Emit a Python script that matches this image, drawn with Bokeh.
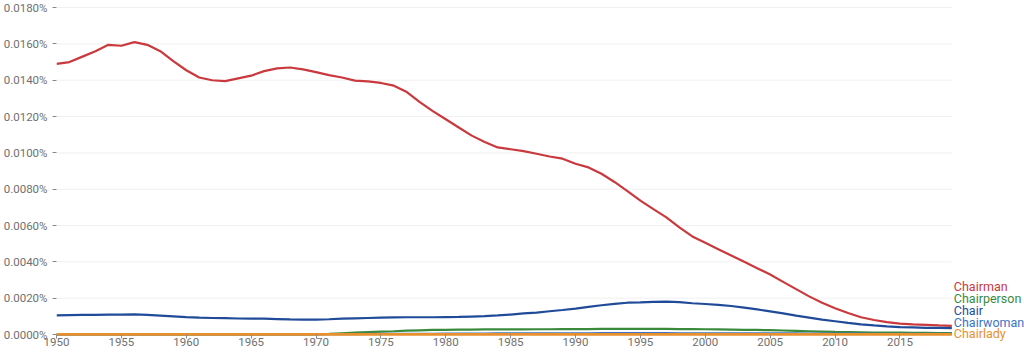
from bokeh.plotting import figure
from bokeh.models import Range1d, PrintfTickFormatter, FixedTicker, ColumnDataSource
from bokeh.core.properties import value
from bokeh.embed import file_html
from bokeh.resources import INLINE

years = list(range(1950, 2020))

chairman = [
    0.01490, 0.01500, 0.01530, 0.01560, 0.01595, 0.01590, 0.01610, 0.01595, 0.01560, 0.01505,
    0.01455, 0.01415, 0.01400, 0.01395, 0.01410, 0.01425, 0.01450, 0.01465, 0.01470, 0.01460,
    0.01445, 0.01428, 0.01415, 0.01398, 0.01394, 0.01385, 0.01370, 0.01335, 0.01280, 0.01230,
    0.01185, 0.01140, 0.01095, 0.01060, 0.01030, 0.01020, 0.01010, 0.00995, 0.00980, 0.00968,
    0.00940, 0.00920, 0.00885, 0.00840, 0.00790, 0.00737, 0.00690, 0.00645, 0.00590, 0.00540,
    0.00505, 0.00470, 0.00435, 0.00400, 0.00365, 0.00330, 0.00290, 0.00250, 0.00210, 0.00175,
    0.00145, 0.00118, 0.00095, 0.00080, 0.00068, 0.00060, 0.00056, 0.00053, 0.00050, 0.00048,
]

chair = [
    0.00105, 0.00107, 0.00108, 0.00108, 0.00110, 0.00110, 0.00111, 0.00108, 0.00104, 0.00100,
    0.00096, 0.00093, 0.00091, 0.00090, 0.00088, 0.00087, 0.00087, 0.00085, 0.00083, 0.00082,
    0.00082, 0.00084, 0.00087, 0.00089, 0.00091, 0.00093, 0.00094, 0.00095, 0.00095, 0.00095,
    0.00096, 0.00097, 0.00099, 0.00101, 0.00105, 0.00110, 0.00116, 0.00121, 0.00128, 0.00135,
    0.00143, 0.00152, 0.00161, 0.00169, 0.00175, 0.00177, 0.00180, 0.00181, 0.00178, 0.00172,
    0.00168, 0.00163, 0.00157, 0.00148, 0.00138, 0.00127, 0.00116, 0.00104, 0.00093, 0.00082,
    0.00073, 0.00064, 0.00056, 0.00050, 0.00045, 0.00041, 0.00039, 0.00037, 0.00036, 0.00035,
]

chairperson = [
    0.0, 0.0, 0.0, 0.0, 0.0, 0.0, 0.0, 0.0, 0.0, 0.0,
    0.0, 0.0, 0.0, 0.0, 0.0, 0.0, 0.0, 0.0, 0.0, 0.00001,
    0.00002, 0.00004, 0.00007, 0.00010, 0.00013, 0.00016, 0.00018, 0.00021, 0.00023, 0.00025,
    0.00026, 0.00027, 0.00027, 0.00028, 0.00028, 0.00028, 0.00028, 0.00029, 0.00029, 0.00030,
    0.00030, 0.00030, 0.00031, 0.00031, 0.00031, 0.00031, 0.00031, 0.00031, 0.00030, 0.00030,
    0.00029, 0.00028, 0.00027, 0.00026, 0.00025, 0.00024, 0.00022, 0.00020, 0.00018, 0.00016,
    0.00014, 0.00013, 0.00012, 0.00011, 0.00010, 0.00010, 0.00009, 0.00009, 0.00008, 0.00008,
]

chairwoman = [
    0.00001, 0.00001, 0.00001, 0.00001, 0.00001, 0.00001, 0.00001, 0.00001, 0.00001, 0.00001,
    0.00001, 0.00001, 0.00001, 0.00001, 0.00001, 0.00001, 0.00001, 0.00001, 0.00001, 0.00001,
    0.00001, 0.00002, 0.00002, 0.00002, 0.00003, 0.00003, 0.00003, 0.00004, 0.00004, 0.00004,
    0.00005, 0.00005, 0.00005, 0.00005, 0.00006, 0.00006, 0.00006, 0.00006, 0.00007, 0.00007,
    0.00007, 0.00007, 0.00008, 0.00008, 0.00008, 0.00008, 0.00008, 0.00008, 0.00007, 0.00007,
    0.00007, 0.00007, 0.00007, 0.00006, 0.00006, 0.00006, 0.00006, 0.00006, 0.00005, 0.00005,
    0.00005, 0.00005, 0.00005, 0.00004, 0.00004, 0.00004, 0.00004, 0.00004, 0.00004, 0.00004,
]

chairlady = [0.00001] * 70

series_names = ["Chairman", "Chairperson", "Chair", "Chairwoman", "Chairlady"]
series_values = [chairman, chairperson, chair, chairwoman, chairlady]
series_colors = ["#c9393d", "#3a8a3c", "#1f4b99", "#3b74c4", "#e8902e"]
series_widths = [2.2, 2.2, 2.2, 2.2, 2.8]
label_y = [0.00264, 0.00198, 0.00132, 0.00068, 0.00004]

y_ticks = [0.0, 0.002, 0.004, 0.006, 0.008, 0.010, 0.012, 0.014, 0.016, 0.018]
x_ticks = [1950, 1955, 1960, 1965, 1970, 1975, 1980, 1985, 1990, 1995, 2000, 2005, 2010, 2015]

p = figure(width=1024, height=353, output_backend="svg", toolbar_location=None,
           x_range=Range1d(1950, 2024.6), y_range=Range1d(-0.000385, 0.01806),
           min_border_left=52, min_border_right=0, min_border_top=6, min_border_bottom=12)
p.outline_line_color = None
p.background_fill_color = "white"
p.border_fill_color = "white"
p.xgrid.grid_line_color = None
p.ygrid.grid_line_color = None

# horizontal gridlines only across the data span
p.segment(x0=[years[0]] * len(y_ticks), x1=[years[-1]] * len(y_ticks), y0=y_ticks, y1=y_ticks,
          line_color="#f0f0f0", line_width=1)

draw_order = [0, 2, 1, 3, 4]
for i in draw_order:
    src = ColumnDataSource(dict(x=years, y=series_values[i]))
    p.line("x", "y", source=src, line_color=series_colors[i], line_width=series_widths[i])

p.text(x=[years[-1]] * len(series_names), y=label_y, text=series_names,
       text_color=series_colors, x_offset=2, text_baseline="middle", text_align="left",
       text_font=value("Roboto"), text_font_size="12.5px")

p.yaxis.ticker = FixedTicker(ticks=y_ticks)
p.yaxis.formatter = PrintfTickFormatter(format="%.4f%%")
p.yaxis.axis_line_color = None
p.yaxis.major_tick_out = 4
p.yaxis.major_tick_in = 0
p.yaxis.minor_tick_line_color = None
p.yaxis.major_tick_line_color = "#888888"
p.yaxis.major_label_standoff = 5
p.yaxis.major_label_text_font = "Roboto"
p.yaxis.major_label_text_font_size = "11.5px"
p.yaxis.major_label_text_color = "#707070"

p.xaxis.ticker = FixedTicker(ticks=x_ticks)
p.xaxis.axis_line_color = None
p.xaxis.major_tick_out = -3
p.xaxis.major_tick_in = 7
p.xaxis.minor_tick_line_color = None
p.xaxis.major_tick_line_color = "#888888"
p.xaxis.major_label_standoff = -4
p.xaxis.major_label_text_font = "Roboto"
p.xaxis.major_label_text_font_size = "11.5px"
p.xaxis.major_label_text_color = "#707070"

open("out.html", "w").write(file_html(p, INLINE))
